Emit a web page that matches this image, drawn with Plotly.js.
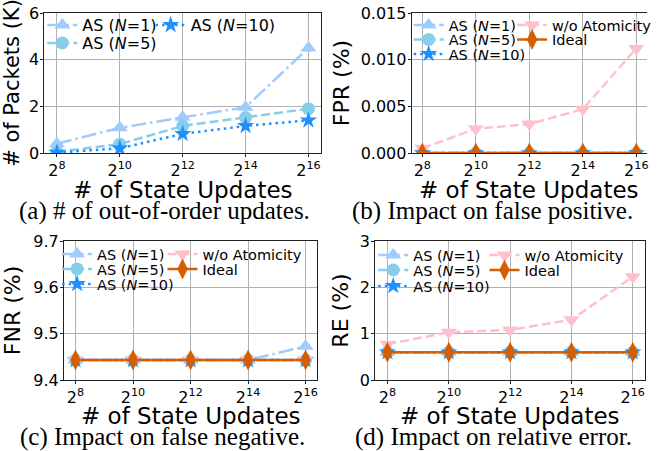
<!DOCTYPE html>
<html>
<head>
<meta charset="utf-8">
<script src="https://cdn.plot.ly/plotly-3.0.1.min.js"></script>
<style>html,body{margin:0;padding:0;background:#fff}#chart{width:657px;height:451px}</style>
</head>
<body>
<div id="chart"></div>
<script>
// ---------- data ----------
const updates = [256, 1024, 4096, 16384, 65536];
const updateTickText = ['2<sup>8</sup>', '2<sup>10</sup>', '2<sup>12</sup>', '2<sup>14</sup>', '2<sup>16</sup>'];
const seriesNames = ['AS (<i>N</i>=1)', 'AS (<i>N</i>=5)', 'AS (<i>N</i>=10)', 'w/o Atomicity', 'Ideal'];

// (a) # of out-of-order updates (K packets)
const pktN1  = [0.40, 1.08, 1.53, 1.96, 4.50];
const pktN5  = [0.05, 0.38, 1.16, 1.52, 1.90];
const pktN10 = [0.02, 0.20, 0.82, 1.16, 1.40];

// (b) FPR (%)
const fprN1     = [0, 0, 0, 0, 0];
const fprN5     = [0, 0, 0, 0, 0];
const fprN10    = [0, 0, 0, 0, 0];
const fprNoAtom = [0.0005, 0.0026, 0.0031, 0.0047, 0.0112];
const fprIdeal  = [0, 0, 0, 0, 0];

// (c) FNR (%)
const fnrN1     = [9.443, 9.443, 9.443, 9.443, 9.473];
const fnrN5     = [9.443, 9.443, 9.443, 9.443, 9.443];
const fnrN10    = [9.443, 9.443, 9.443, 9.443, 9.443];
const fnrNoAtom = [9.443, 9.443, 9.443, 9.443, 9.443];
const fnrIdeal  = [9.443, 9.443, 9.443, 9.443, 9.443];

// (d) RE (%)
const reN1     = [0.60, 0.60, 0.60, 0.60, 0.60];
const reN5     = [0.60, 0.60, 0.60, 0.60, 0.60];
const reN10    = [0.60, 0.60, 0.60, 0.60, 0.60];
const reNoAtom = [0.77, 1.03, 1.08, 1.30, 2.23];
const reIdeal  = [0.60, 0.60, 0.60, 0.60, 0.60];

const captions = ['(a) # of out-of-order updates.', '(b) Impact on false positive.',
                  '(c) Impact on false negative.', '(d) Impact on relative error.'];
const yTitles = ['# of Packets (K)', 'FPR (%)', 'FNR (%)', 'RE (%)'];
const xTitle = '# of State Updates';

// ---------- styles / layout ----------
const W = 657, H = 451;
const fx = p => p / W, fy = p => 1 - p / H;
const styles = [
  {color: '#9fcbff', dash: '15px,4px,2.5px,4px', symbol: 'triangle-up',   size: 14},
  {color: '#87ceeb', dash: '9px,4px',             symbol: 'circle',        size: 13},
  {color: '#1e90ff', dash: '2.5px,4px',           symbol: 'star',          size: 13},
  {color: '#ffc0cb', dash: '9px,4px',             symbol: 'triangle-down', size: 14},
  {color: '#d55e00', dash: 'solid',               symbol: 'diamond-tall',  size: 15}
];

const panels = [
  {series: [pktN1, pktN5, pktN10], idx: [0,1,2], xd: [45, 326], yd: [13, 153], yr: [0, 6], dtick: 2, fmt: '',
   leg: [[63,25],[63,43],[173,25]], legFont: 16, cap: [167, 211], xt: 190, ystand: 3, yfs: 21},
  {series: [fprN1, fprN5, fprN10, fprNoAtom, fprIdeal], idx: [0,1,2,3,4], xd: [418, 657], yd: [13, 153], yr: [0, 0.015], dtick: 0.005, fmt: '.3f',
   leg: [[435,25],[435,39.5],[435,54],[540,25],[540,39.5]], legFont: 14.5, cap: [500, 211], xt: 190, noRight: true, ystand: 4, yfs: 22},
  {series: [fnrN1, fnrN5, fnrN10, fnrNoAtom, fnrIdeal], idx: [0,1,2,3,4], xd: [65, 322], yd: [241, 380], yr: [9.4, 9.7], dtick: 0.1, fmt: '.1f',
   leg: [[78,254],[78,269],[78,284],[185,254],[185,269]], legFont: 14.5, cap: [165, 437], xt: 416, ystand: 6, yfs: 22},
  {series: [reN1, reN5, reN10, reNoAtom, reIdeal], idx: [0,1,2,3,4], xd: [381, 655], yd: [241, 380], yr: [0, 3], dtick: 1, fmt: '',
   leg: [[399,255],[399,270],[399,286],[512,255],[512,270]], legFont: 14.5, cap: [501, 437], xt: 416, ystand: 5, yfs: 22}
];

const lo = Math.log10(updates[0]), hi = Math.log10(updates[updates.length - 1]);
const pad = 0.05 * (hi - lo);
const xRange = [lo - pad, hi + pad];

const traces = [];
const layout = {
  width: W, height: H,
  margin: {l: 0, r: 0, t: 0, b: 0},
  paper_bgcolor: '#fff', plot_bgcolor: '#fff',
  font: {family: 'DejaVu Sans', color: '#000'},
  annotations: []
};

let legN = 1;
panels.forEach((p, i) => {
  const n = i === 0 ? '' : String(i + 1);
  const x0 = fx(p.xd[0]), x1 = Math.min(1, fx(p.xd[1]));
  layout['xaxis' + n] = {
    type: 'log', domain: [x0, x1], range: xRange,
    anchor: 'y' + n,
    tickmode: 'array', tickvals: updates, ticktext: updateTickText,
    showgrid: true, gridcolor: '#b0b0b0', gridwidth: 1,
    showline: true, linecolor: '#222', linewidth: 1, mirror: true,
    ticks: 'outside', ticklen: 3, tickcolor: '#222',
    tickfont: {family: 'DejaVu Sans', size: 16, color: '#000'},
    zeroline: false
  };
  layout['yaxis' + n] = {
    domain: [fy(p.yd[1]), fy(p.yd[0])], range: p.yr, anchor: 'x' + n,
    dtick: p.dtick, tick0: 0, tickformat: p.fmt,
    showgrid: true, gridcolor: '#b0b0b0', gridwidth: 1,
    showline: true, linecolor: '#222', linewidth: 1, mirror: p.noRight ? false : true,
    ticks: 'outside', ticklen: 3, tickcolor: '#222', ticklabelstandoff: -2,
    tickfont: {family: 'DejaVu Sans', size: 16, color: '#000'},
    zeroline: false,
    title: {text: yTitles[i], font: {family: 'DejaVu Sans', size: p.yfs, color: '#000'}, standoff: p.ystand}
  };
  p.series.forEach((ys, k) => {
    const s = styles[p.idx[k]];
    legN += 1;
    const lid = 'legend' + legN;
    traces.push({
      type: 'scatter', mode: 'lines+markers',
      x: updates, y: ys, xaxis: 'x' + n, yaxis: 'y' + n,
      name: seriesNames[p.idx[k]], legend: lid,
      line: {color: s.color, width: 2.5, dash: s.dash},
      marker: {color: s.color, symbol: s.symbol, size: s.size}
    });
    layout[lid] = {
      x: fx(p.leg[k][0] - 20), y: fy(p.leg[k][1]), xanchor: 'left', yanchor: 'middle',
      bgcolor: 'rgba(0,0,0,0)', borderwidth: 0,
      font: {family: 'DejaVu Sans', size: p.legFont, color: '#000'}
    };
  });
  // x-axis title (placed as paper annotation centred under the plot area)
  layout.annotations.push({
    xref: 'paper', yref: 'paper', x: (fx(p.xd[0]) + fx(p.xd[1])) / 2, y: fy(p.xt),
    xanchor: 'center', yanchor: 'middle', showarrow: false,
    text: xTitle, font: {family: 'DejaVu Sans', size: 23, color: '#000'}
  });
  layout.annotations.push({
    xref: 'paper', yref: 'paper', x: fx(p.cap[0]), y: fy(p.cap[1]),
    xanchor: 'center', yanchor: 'middle', showarrow: false,
    text: captions[i], font: {family: 'Liberation Serif', size: 25, color: '#000'}
  });
});

Plotly.newPlot('chart', traces, layout, {displayModeBar: false, staticPlot: true});
</script>
</body>
</html>
